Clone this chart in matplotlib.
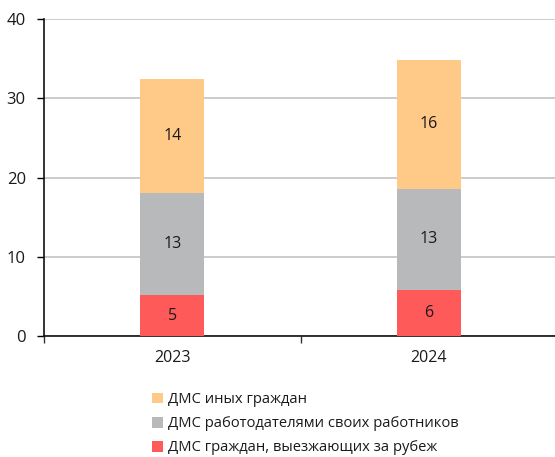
import matplotlib.pyplot as plt
import numpy as np

plt.rcParams['font.family'] = ['Open Sans', 'DejaVu Sans']

years = ["2023", "2024"]
abroad = [5.15, 5.8]        # ДМС граждан, выезжающих за рубеж
employers = [12.95, 12.8]   # ДМС работодателями своих работников
others = [14.4, 16.25]      # ДМС иных граждан

series_names = ["ДМС граждан, выезжающих за рубеж",
                "ДМС работодателями своих работников",
                "ДМС иных граждан"]
colors = ["#FF5A5A", "#B8B9BB", "#FFC987"]

fig = plt.figure(figsize=(5.55, 4.57), dpi=100)
ax = fig.add_axes([0.079, 0.265, 0.925, 0.693])

x = np.arange(len(years))
bottom = np.zeros(len(years))
bars = []
for vals, name, col in zip([abroad, employers, others], series_names, colors):
    vals = np.array(vals)
    b = ax.bar(x, vals, width=0.25, bottom=bottom, color=col, label=name, zorder=3)
    bars.append(b)
    for xi, v, b0 in zip(x, vals, bottom):
        ax.text(xi, b0 + v / 2, f"{round(v)}", ha="center", va="center",
                fontsize=11.5, color="#1a1a1a", zorder=4)
    bottom += vals

ax.set_xlim(-0.5, 1.5)
ax.set_ylim(0, 40)
ax.set_yticks([0, 10, 20, 30, 40])
ax.yaxis.grid(True, color="#C8C8C8", linewidth=1.3, zorder=0)
ax.set_axisbelow(True)

# boundary ticks between categories, labels on minor ticks
ax.set_xticks([-0.5, 0.5, 1.5])
ax.set_xticklabels([])
ax.set_xticks(x, minor=True)
ax.set_xticklabels(years, minor=True)
ax.tick_params(axis="x", which="major", length=5, width=1, color="#333333")
ax.tick_params(axis="x", which="minor", length=0, pad=10, labelsize=11.5, labelcolor="#1a1a1a")
ax.tick_params(axis="y", length=5, width=1, pad=8, labelsize=12, labelcolor="#1a1a1a")

for s in ["top", "right"]:
    ax.spines[s].set_visible(False)
for s in ["left", "bottom"]:
    ax.spines[s].set_color("#111111")
    ax.spines[s].set_linewidth(1.2)

handles = [bars[2], bars[1], bars[0]]
fig.legend(handles, [series_names[2], series_names[1], series_names[0]],
           loc="upper left", bbox_to_anchor=(0.26, 0.158), bbox_transform=fig.transFigure,
           frameon=False, fontsize=10.6, handlelength=0.75, handleheight=0.75,
           handletextpad=0.35, labelspacing=0.62, borderpad=0, labelcolor="#1a1a1a")

fig.savefig("out.png", dpi=100)
